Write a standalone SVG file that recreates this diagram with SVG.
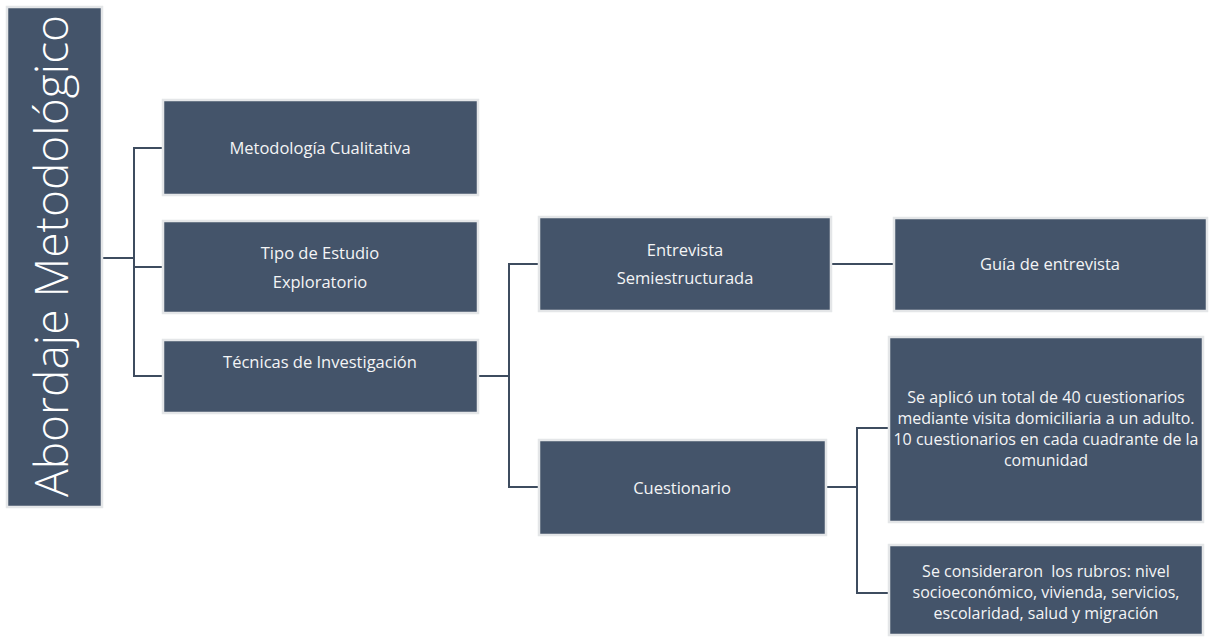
<svg xmlns="http://www.w3.org/2000/svg" width="1212" height="640" viewBox="0 0 1212 640">
<style>
.box{fill:#44546a;stroke:#e4e6e8;stroke-width:2.5}
.t{font-family:"Open Sans",Lato,"Liberation Sans",sans-serif;font-size:16.5px;fill:#f4f5f6;text-anchor:middle;white-space:pre}
.s{font-size:16px}
.root{font-family:"Open Sans",Lato,"Liberation Sans",sans-serif;font-weight:300;font-size:46px;fill:#ffffff;text-anchor:middle}
.c{fill:none;stroke:#3e4c5f;stroke-width:2}
</style>
<rect width="1212" height="640" fill="#ffffff"/>
<g id="connectors">
<path class="c" d="M102,258 H134"/>
<path class="c" d="M163,148 H134 V376 H163 M134,267 H163"/>
<path class="c" d="M478,376 H509"/>
<path class="c" d="M539,264 H509 V487 H539"/>
<path class="c" d="M831,264 H893"/>
<path class="c" d="M826,487 H857"/>
<path class="c" d="M889,428 H857 V593 H889"/>
</g>
<g id="root">
<rect class="box" x="7" y="7" width="95" height="500"/>
<text class="root" transform="translate(68,256) rotate(-90)" textLength="482" lengthAdjust="spacingAndGlyphs">Abordaje Metodológico</text>
</g>
<g id="n-metodologia">
<rect class="box" x="163" y="100" width="315" height="95"/>
<text class="t" x="320" y="154">Metodología Cualitativa</text>
</g>
<g id="n-tipo">
<rect class="box" x="163" y="221" width="315" height="92"/>
<text class="t" x="320" y="259">Tipo de Estudio</text>
<text class="t" x="320" y="288">Exploratorio</text>
</g>
<g id="n-tecnicas">
<rect class="box" x="163" y="340" width="315" height="73"/>
<text class="t" x="320" y="368">Técnicas de Investigación</text>
</g>
<g id="n-entrevista">
<rect class="box" x="539" y="217" width="292" height="94"/>
<text class="t" x="685" y="256">Entrevista</text>
<text class="t" x="685" y="284">Semiestructurada</text>
</g>
<g id="n-cuestionario">
<rect class="box" x="539" y="440" width="287" height="95"/>
<text class="t" x="682" y="494">Cuestionario</text>
</g>
<g id="n-guia">
<rect class="box" x="894" y="218" width="313" height="93"/>
<text class="t" x="1050" y="270">Guía de entrevista</text>
</g>
<g id="n-aplico">
<rect class="box" x="889" y="337" width="314" height="185"/>
<text class="t s" x="1046" y="403">Se aplicó un total de 40 cuestionarios</text>
<text class="t s" x="1046" y="424">mediante visita domiciliaria a un adulto.</text>
<text class="t s" x="1046" y="445">10 cuestionarios en cada cuadrante de la</text>
<text class="t s" x="1046" y="466">comunidad</text>
</g>
<g id="n-rubros">
<rect class="box" x="889" y="545" width="314" height="90"/>
<text class="t s" x="1046" y="577">Se consideraron  los rubros: nivel</text>
<text class="t s" x="1046" y="598">socioeconómico, vivienda, servicios,</text>
<text class="t s" x="1046" y="619">escolaridad, salud y migración</text>
</g>
</svg>
